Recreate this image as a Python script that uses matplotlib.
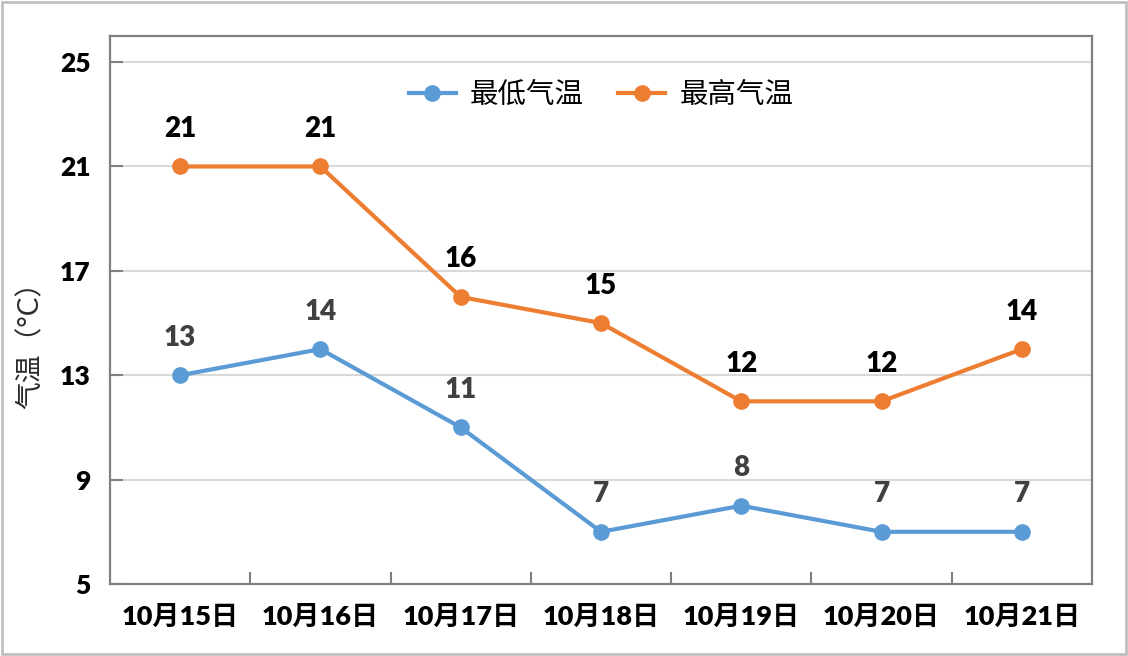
import matplotlib
matplotlib.use('Agg')
import matplotlib.pyplot as plt
from matplotlib.patches import Rectangle

# data
dates = ['10月15日', '10月16日', '10月17日', '10月18日', '10月19日', '10月20日', '10月21日']
low_temp = [13, 14, 11, 7, 8, 7, 7]
high_temp = [21, 21, 16, 15, 12, 12, 14]
y_ticks = [5, 9, 13, 17, 21, 25]

blue = '#5B9BD5'
orange = '#ED7D31'
fonts = ['Lato', 'Noto Sans CJK SC', 'DejaVu Sans']
plt.rcParams['font.family'] = fonts

fig = plt.figure(figsize=(11.28, 6.56), dpi=100)
ax = fig.add_axes([110 / 1128, 1 - 584 / 656, 982 / 1128, 548 / 656])

x = list(range(len(dates)))
ax.plot(x, low_temp, color=blue, lw=3, marker='o', ms=11, label='最低气温', zorder=3)
ax.plot(x, high_temp, color=orange, lw=3, marker='o', ms=11, label='最高气温', zorder=3)

# data labels above the points
for xi, v in zip(x, low_temp):
    ax.annotate(str(v), (xi, v), xytext=(0, 27), textcoords='offset points',
                ha='center', va='center', fontsize=20, fontweight='heavy', color='#404040')
for xi, v in zip(x, high_temp):
    ax.annotate(str(v), (xi, v), xytext=(0, 27), textcoords='offset points',
                ha='center', va='center', fontsize=20, fontweight='heavy', color='black')

ax.set_xlim(-0.5, len(dates) - 0.5)
ax.set_ylim(5, 26)
ax.set_yticks(y_ticks)
ax.set_xticks(x)
ax.set_xticklabels(dates)
ax.set_xticks([i + 0.5 for i in x[:-1]], minor=True)

ax.grid(axis='y', color='#D9D9D9', lw=1.5, zorder=0)
ax.set_axisbelow(True)
for s in ax.spines.values():
    s.set_color('#808080')
    s.set_linewidth(1.6)

ax.tick_params(axis='x', which='major', length=0, pad=15)
ax.tick_params(axis='x', which='minor', direction='in', length=9, width=1.5, color='#808080')
ax.tick_params(axis='y', direction='in', length=9, width=1.5, color='#808080', pad=14)
for lab in ax.get_yticklabels():
    lab.set_fontsize(19)
    lab.set_fontweight('heavy')
for lab in ax.get_xticklabels():
    lab.set_fontsize(19.5)
    lab.set_fontweight('heavy')

leg = ax.legend(loc='center', bbox_to_anchor=(0.5, 0.892), ncol=2, frameon=False,
                prop={'family': fonts, 'size': 20.5}, handlelength=1.65,
                columnspacing=1.2, handletextpad=0.5)

fig.text(30 / 1128, 1 - 338 / 656, '气温（°C）', rotation=90, ha='center', va='center',
         fontsize=20, color='#2b2b2b', family=fonts)

# outer frame
fig.patches.append(Rectangle((0.002, 0.003), 0.996, 0.994, transform=fig.transFigure,
                             fill=False, edgecolor='#BFBFBF', lw=2))

fig.savefig('out.png', dpi=100)
